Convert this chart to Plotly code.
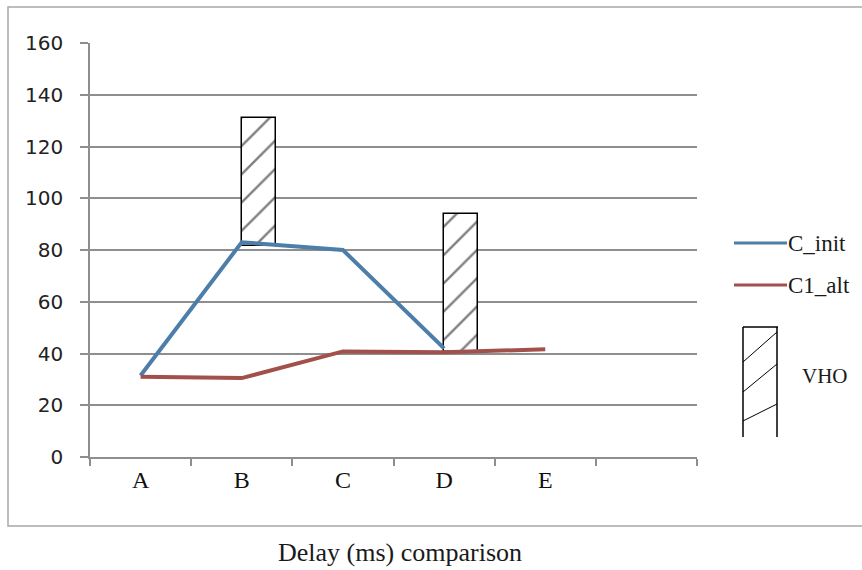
import plotly.graph_objects as go

categories = ["A", "B", "C", "D", "E"]
cat_index = [0, 1, 2, 3, 4]
c_init = [31.5, 83, 80, 42, None]
c1_alt = [31, 30.5, 40.8, 40.5, 41.6]
vho_x = [1, 3]
vho_low = [81.5, 40.5]
vho_high = [131, 94]
y_ticks = [0, 20, 40, 60, 80, 100, 120, 140, 160]
boundaries = [-0.5, 0.5, 1.5, 2.5, 3.5, 4.5, 5.5]

BLUE = "#4d7eaa"
RED = "#a2504c"
GRID = "#8e8e8e"

fig = go.Figure()

fig.add_trace(go.Bar(
    x=vho_x, y=[h - l for h, l in zip(vho_high, vho_low)], base=vho_low,
    offset=0, width=0.34, name="VHO",
    marker=dict(color="white", line=dict(color="black", width=1.5),
                pattern=dict(shape="/", fgcolor="black", bgcolor="white",
                             size=20, solidity=0.12)),
    showlegend=False,
))
fig.add_trace(go.Scatter(x=cat_index, y=c_init, mode="lines", name="C_init",
                         line=dict(color=BLUE, width=4), showlegend=False))
fig.add_trace(go.Scatter(x=cat_index, y=c1_alt, mode="lines", name="C1_alt",
                         line=dict(color=RED, width=4), showlegend=False))

# pixel -> paper helpers (plot area 90..697 x, 43..457 y)
def px(x):
    return (x - 90) / 607.0

def py(y):
    return (457 - y) / 414.0

shapes = []
# outer chart border
shapes.append(dict(type="rect", xref="paper", yref="paper",
                   x0=px(8), x1=px(875), y0=py(526), y1=py(7),
                   line=dict(color="#a8a8a8", width=1.5), fillcolor="rgba(0,0,0,0)", layer="below"))
# legend glyphs
shapes.append(dict(type="line", xref="paper", yref="paper",
                   x0=px(734), x1=px(787), y0=py(243), y1=py(243),
                   line=dict(color=BLUE, width=3)))
shapes.append(dict(type="line", xref="paper", yref="paper",
                   x0=px(734), x1=px(787), y0=py(285), y1=py(285),
                   line=dict(color=RED, width=3)))
shapes.append(dict(type="line", xref="paper", yref="paper",
                   x0=px(743), x1=px(778), y0=py(327), y1=py(327),
                   line=dict(color="black", width=1.5)))
shapes.append(dict(type="line", xref="paper", yref="paper",
                   x0=px(743), x1=px(743), y0=py(327), y1=py(437),
                   line=dict(color="black", width=1.5)))
shapes.append(dict(type="line", xref="paper", yref="paper",
                   x0=px(777), x1=px(777), y0=py(327), y1=py(437),
                   line=dict(color="black", width=1.5)))
for (a, b, c, d) in [(743, 362, 777, 332), (743, 392, 777, 364), (743, 421, 777, 404)]:
    shapes.append(dict(type="line", xref="paper", yref="paper",
                       x0=px(a), x1=px(c), y0=py(b), y1=py(d),
                       line=dict(color="black", width=1)))

SERIF = "Liberation Serif"
annotations = [
    dict(text="Delay (ms) comparison", xref="paper", yref="paper",
         x=px(400), y=py(552), showarrow=False, xanchor="center", yanchor="middle",
         font=dict(family=SERIF, size=26, color="#1a1a1a")),
    dict(text="C_init", xref="paper", yref="paper", x=px(786), y=py(243),
         showarrow=False, xanchor="left", yanchor="middle",
         font=dict(family=SERIF, size=23, color="#1a1a1a")),
    dict(text="C1_alt", xref="paper", yref="paper", x=px(786), y=py(285),
         showarrow=False, xanchor="left", yanchor="middle",
         font=dict(family=SERIF, size=23, color="#1a1a1a")),
    dict(text="VHO", xref="paper", yref="paper", x=px(800), y=py(376),
         showarrow=False, xanchor="left", yanchor="middle",
         font=dict(family=SERIF, size=21, color="#1a1a1a")),
]

fig.update_layout(
    width=862, height=570,
    margin=dict(l=90, r=165, t=43, b=113),
    paper_bgcolor="white", plot_bgcolor="white",
    shapes=shapes, annotations=annotations,
    bargap=0,
    xaxis=dict(range=[-0.5, 5.5], tickmode="array", tickvals=cat_index, ticktext=categories,
               ticks="", showgrid=False, zeroline=False, showline=True,
               linecolor=GRID, linewidth=1.5,
               tickfont=dict(family=SERIF, size=24, color="#111111"),
               ticklabelstandoff=0,
               minor=dict(tickmode="array", tickvals=boundaries, ticks="outside",
                          ticklen=7, tickcolor=GRID, tickwidth=1.5, showgrid=False)),
    yaxis=dict(range=[0, 160], tickmode="array", tickvals=y_ticks,
               showgrid=True, gridcolor=GRID, gridwidth=1.5, zeroline=False,
               showline=True, linecolor=GRID, linewidth=1.5,
               ticks="outside", ticklen=8, tickcolor=GRID, tickwidth=1.5,
               tickfont=dict(family="DejaVu Sans", size=20, color="#222222"),
               ticklabelstandoff=13),
)

fig.write_html("out.html")
